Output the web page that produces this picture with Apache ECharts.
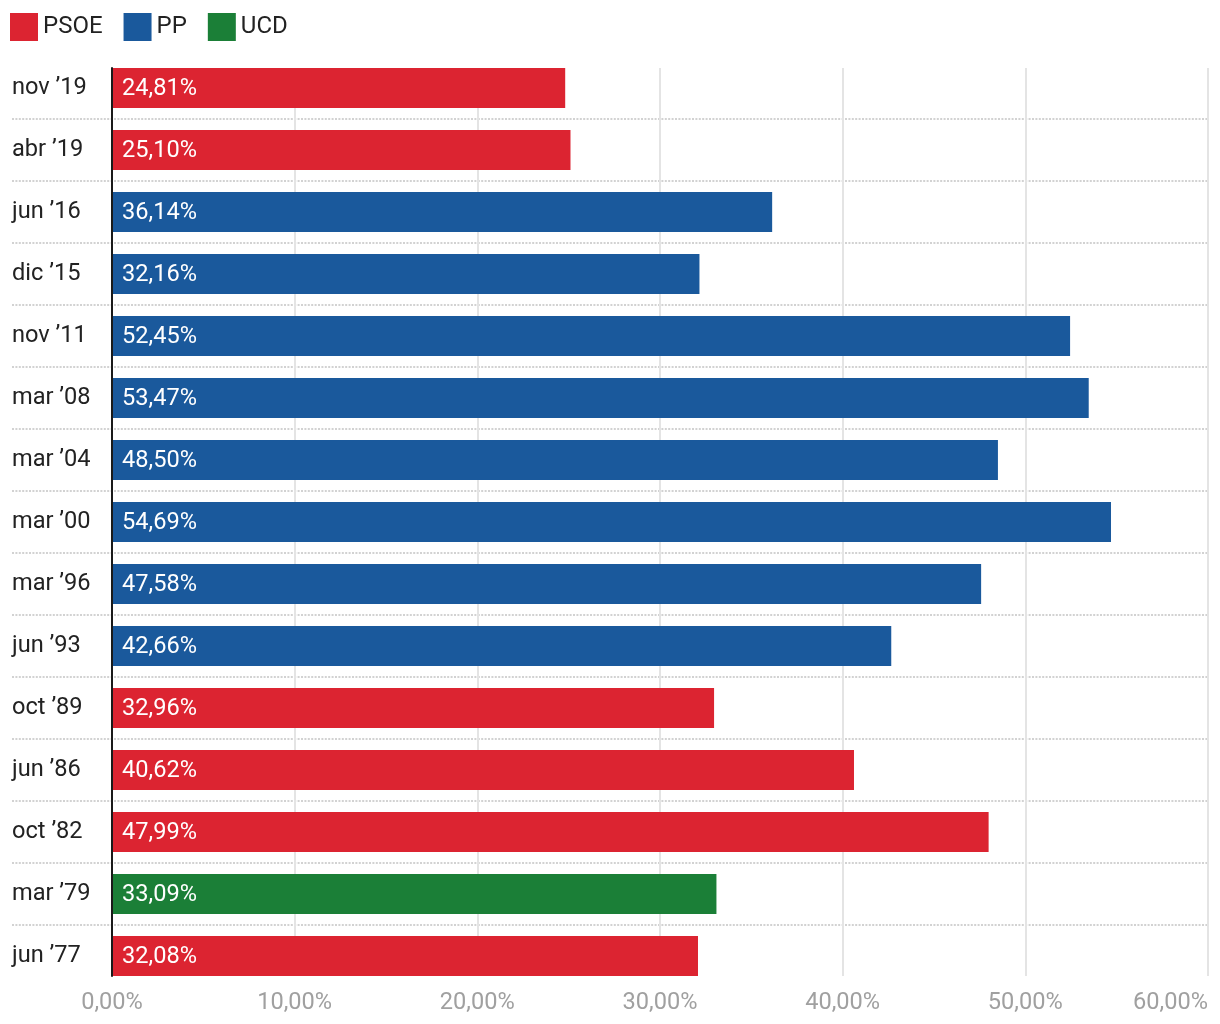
<!DOCTYPE html>
<html>
<head>
<meta charset="utf-8">
<script src="https://cdn.jsdelivr.net/npm/echarts@6/dist/echarts.min.js"></script>
<style>
html,body{margin:0;padding:0;background:#fff;}
#chart{width:1220px;height:1024px;}
</style>
</head>
<body>
<div id="chart"></div>
<script>
const categories = ["nov ’19","abr ’19","jun ’16","dic ’15","nov ’11","mar ’08","mar ’04","mar ’00","mar ’96","jun ’93","oct ’89","jun ’86","oct ’82","mar ’79","jun ’77"];
const winners = ["PSOE","PSOE","PP","PP","PP","PP","PP","PP","PP","PP","PSOE","PSOE","PSOE","UCD","PSOE"];
const values = [24.81,25.10,36.14,32.16,52.45,53.47,48.50,54.69,47.58,42.66,32.96,40.62,47.99,33.09,32.08];
const parties = ["PSOE","PP","UCD"];
const partyColors = {PSOE:"#dc2431", PP:"#1a599c", UCD:"#1b7f37"};
const xTicks = [0,10,20,30,40,50,60];

const FONT = "Roboto";
const FS = 23.6;
const fmt = v => v.toFixed(2).replace('.', ',') + '%';

const series = parties.map(p => ({
  name: p,
  type: 'bar',
  xAxisIndex: 0,
  yAxisIndex: 0,
  stack: 'all',
  barWidth: 40,
  itemStyle: {color: partyColors[p]},
  label: {
    show: true,
    position: 'insideLeft',
    distance: 10,
    offset: [0, 1.5],
    color: '#fff',
    fontFamily: FONT,
    fontSize: FS,
    formatter: params => fmt(params.value)
  },
  data: values.map((v, i) => winners[i] === p ? v : '-'),
  z: 3
}));

const chart = echarts.init(document.getElementById('chart'), null, {renderer: 'canvas'});
chart.setOption({
  animation: false,
  legend: {
    data: parties,
    left: 10,
    top: 13,
    padding: 0,
    icon: 'rect',
    itemWidth: 28,
    itemHeight: 28,
    itemGap: 21,
    textStyle: {fontFamily: FONT, fontSize: 24, color: '#222', padding: [2, 0, 0, 0]}
  },
  grid: [
    {left: 112, right: 12, top: 57, height: 930},
    {left: 12, right: 12, top: 119, height: 806},
    {left: 112, right: 12, top: 68, height: 908}
  ],
  xAxis: [
    {gridIndex: 0, type: 'value', min: 0, max: 60, show: false},
    {gridIndex: 1, type: 'value', min: 0, max: 1, show: false},
    {
      gridIndex: 2, type: 'value', min: 0, max: 60, interval: 10,
      axisLine: {show: false}, axisTick: {show: false},
      splitLine: {show: true, lineStyle: {color: '#e4e4e4', width: 2}},
      axisLabel: {
        fontFamily: FONT, fontSize: FS, color: '#a0a0a0', margin: 15,
        alignMaxLabel: 'right',
        formatter: v => xTicks.indexOf(v) >= 0 ? fmt(v) : ''
      }
    }
  ],
  yAxis: [
    {
      gridIndex: 0, type: 'category', inverse: true, data: categories,
      axisLine: {show: false}, axisTick: {show: false}, splitLine: {show: false},
      axisLabel: {
        interval: 0, margin: 100, align: 'left', padding: [3, 0, 0, 0],
        fontFamily: FONT, fontSize: FS, color: '#222'
      }
    },
    {
      gridIndex: 1, type: 'category', inverse: true, boundaryGap: false,
      data: categories.slice(1),
      axisLine: {show: false}, axisTick: {show: false},
      axisLabel: {show: false, interval: 0},
      splitLine: {show: true, interval: 0, lineStyle: {color: '#d2d2d2', width: 2, type: [2, 1.4]}}
    },
    {
      gridIndex: 2, type: 'value', min: 0, max: 1, z: 6,
      axisLine: {show: true, lineStyle: {color: '#1a1a1a', width: 2}},
      axisTick: {show: false}, axisLabel: {show: false}, splitLine: {show: false}
    }
  ],
  series: series
});
</script>
</body>
</html>
